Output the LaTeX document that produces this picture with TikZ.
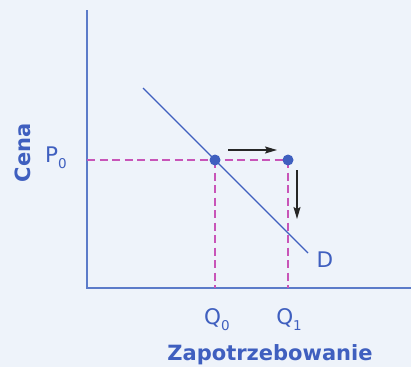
\documentclass[tikz,border=0pt]{standalone}
\usepackage{fontspec}
\setmainfont{DejaVu Sans}
\usetikzlibrary{positioning,arrows.meta}
\definecolor{bgblue}{HTML}{EEF3FA}
\definecolor{axisblue}{HTML}{5B7BC9}
\definecolor{txtblue}{HTML}{3F5FBF}
\definecolor{dashpink}{HTML}{C855B8}
\newcommand{\lowidx}[1]{\raisebox{-6pt}{\fontsize{13.5}{14}\selectfont #1}}

\begin{document}
\begin{tikzpicture}[x=1pt,y=-1pt,
  axis/.style={axisblue, line width=2pt},
  demand/.style={txtblue, line width=1.2pt},
  guide/.style={dashpink, line width=1.5pt, dash pattern=on 8pt off 4.5pt},
  dot/.style={circle, fill=txtblue, inner sep=0pt, minimum size=11pt},
  lbl/.style={txtblue, font=\fontsize{21.5}{24}\selectfont, anchor=base, inner sep=0pt},
  title/.style={txtblue, font=\fontsize{21}{24}\selectfont\bfseries, inner sep=0pt},
  move/.style={-{Stealth[length=12pt,width=7pt,inset=2pt]}, line width=1.3pt, black!85}]

% ===================== background =====================
\fill[bgblue] (0,0) rectangle (411,367);
\useasboundingbox (0,0) rectangle (411,367);

% ===================== axes =====================
\coordinate (ytop) at (87,10);
\coordinate (origin) at (87,288);
\coordinate (xend) at (411,288);
\draw[axis] (ytop) -- (origin) -- (xend);

% ---- demand line ----
\coordinate (dtop) at (143,88);
\coordinate (dbot) at (308,253);
\draw[demand] (dtop) -- (dbot);

% ---- guides (drawn before the dots) ----
\coordinate (e0c) at (215,160);
\coordinate (e1c) at (288,160);
\coordinate (p0c) at (87,160);
\draw[guide] (p0c) -- (e1c);
\draw[guide] (e0c) -- (e0c |- origin);
\draw[guide] (e1c) -- (e1c |- origin);

\node[dot] (e0) at (e0c) {};
\node[dot] (e1) at (e1c) {};

% ---- shift arrows ----
\coordinate (rs) at (228,150);
\coordinate (re) at (277,150);
\draw[move] (rs) -- (re);
\coordinate (ds) at (297,170);
\coordinate (de) at (297,219);
\draw[move] (ds) -- (de);

% ===================== labels =====================
\node[lbl] (dlab) at (325,267) {D};
\node[lbl] (plab) at (56,162) {P\lowidx{0}};
\node[lbl] (q0lab) at (217,324) {Q\lowidx{0}};
\node[lbl] (q1lab) at (289,324) {Q\lowidx{1}};
\node[title] (xlab) at (270,355) {Zapotrzebowanie};
\node[title, rotate=90] (ylab) at (23,153) {Cena};

\end{tikzpicture}
\end{document}
